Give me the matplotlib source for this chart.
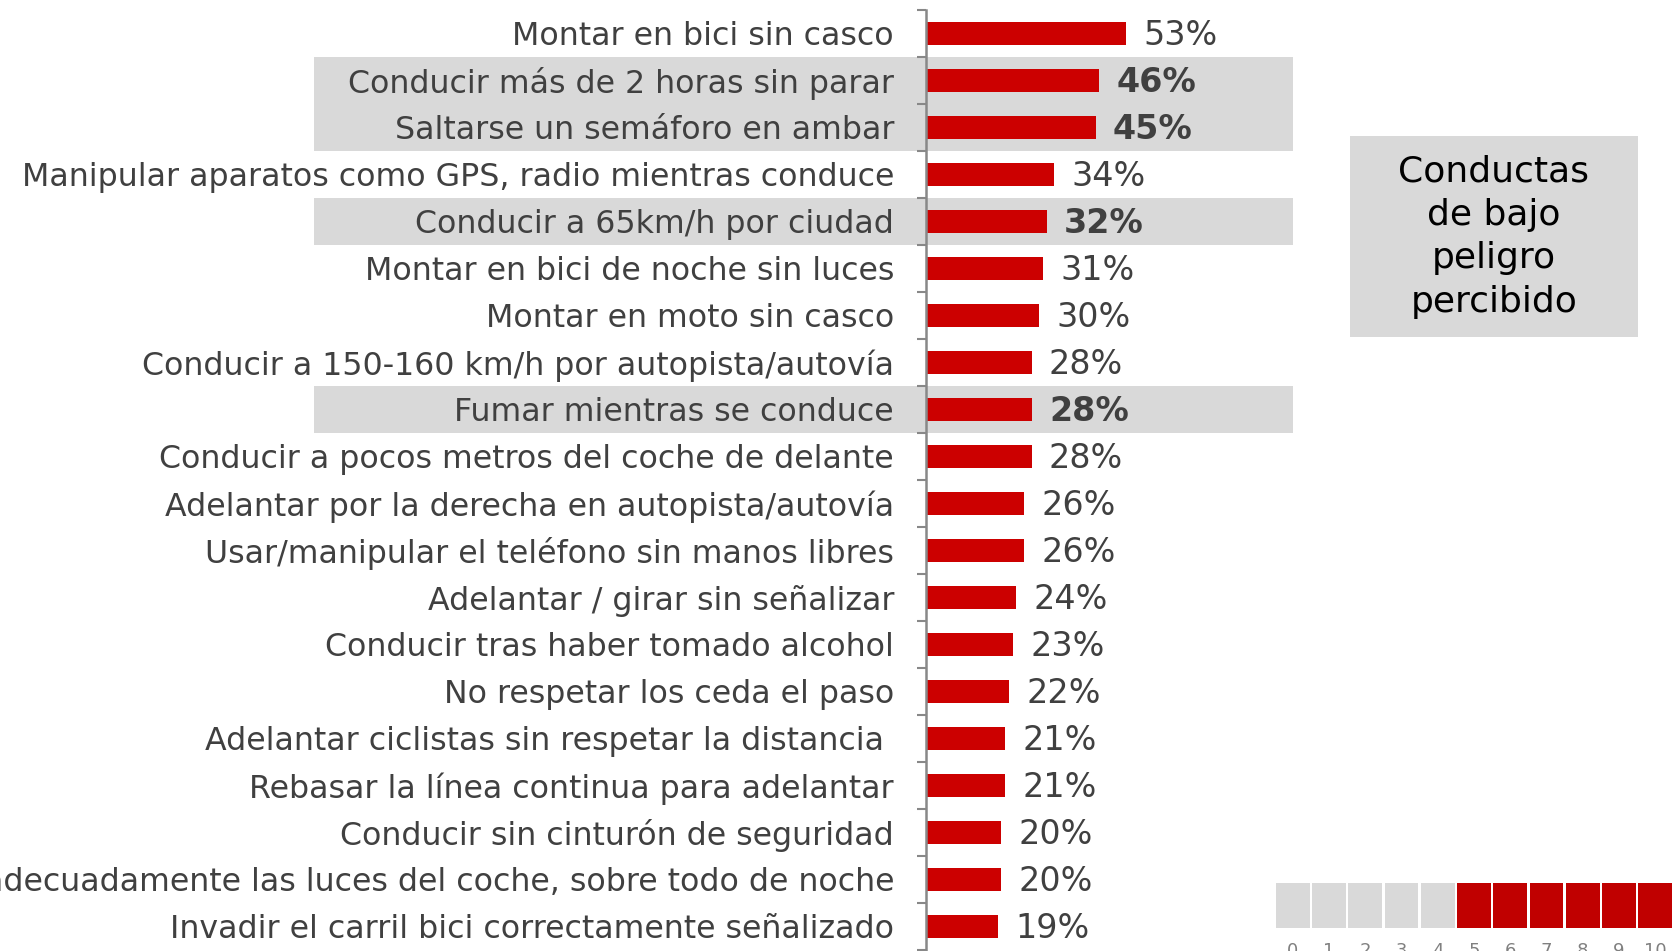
import matplotlib.pyplot as plt
from matplotlib.patches import Rectangle

# datos
conductas = [
    "Montar en bici sin casco",
    "Conducir más de 2 horas sin parar",
    "Saltarse un semáforo en ambar",
    "Manipular aparatos como GPS, radio mientras conduce",
    "Conducir a 65km/h por ciudad",
    "Montar en bici de noche sin luces",
    "Montar en moto sin casco",
    "Conducir a 150-160 km/h por autopista/autovía",
    "Fumar mientras se conduce",
    "Conducir a pocos metros del coche de delante",
    "Adelantar por la derecha en autopista/autovía",
    "Usar/manipular el teléfono sin manos libres",
    "Adelantar / girar sin señalizar",
    "Conducir tras haber tomado alcohol",
    "No respetar los ceda el paso",
    "Adelantar ciclistas sin respetar la distancia ",
    "Rebasar la línea continua para adelantar",
    "Conducir sin cinturón de seguridad",
    "No usar adecuadamente las luces del coche, sobre todo de noche",
    "Invadir el carril bici correctamente señalizado",
]
porcentajes = [53, 46, 45, 34, 32, 31, 30, 28, 28, 28, 26, 26, 24, 23, 22, 21, 21, 20, 20, 19]
bajo_peligro = [1, 2, 4, 8]  # filas destacadas

escala = list(range(11))
umbral = 5

ROJO = "#cc0000"
GRIS = "#d9d9d9"
TEXTO = "#404040"

W, H = 1673, 951
fig = plt.figure(figsize=(W / 100, H / 100), dpi=100)

# eje principal
x0, x1 = 926, 1293
ax = fig.add_axes([x0 / W, 1 - 950 / H, (x1 - x0) / W, 940 / H])
n = len(conductas)
y = list(range(n))
ax.barh(y, porcentajes, height=0.5, color=ROJO, zorder=2)
ax.set_xlim(0, (x1 - x0) / 3.77)
ax.set_ylim(n - 0.5, -0.5)

band_left = (314 - x0) / (x1 - x0)
for i in bajo_peligro:
    ax.axhspan(i - 0.5, i + 0.5, xmin=band_left, xmax=1, color=GRIS,
               clip_on=False, zorder=0.5, lw=0)

for i, v in enumerate(porcentajes):
    bold = i in bajo_peligro
    ax.text(v + 4.6, i + 0.04, f"{v}%", va="center", ha="left", fontsize=24,
            color=TEXTO, fontweight="bold" if bold else "normal")

ax.set_yticks(y)
ax.set_yticklabels(conductas, fontsize=22.8, color=TEXTO)
ax.set_yticks([i - 0.5 for i in range(n + 1)], minor=True)
ax.tick_params(axis="y", which="major", length=0, pad=23)
ax.tick_params(axis="y", which="minor", length=6.5, width=1.5, color="#888888", direction="out")
ax.set_xticks([])
for s in ["top", "right", "bottom"]:
    ax.spines[s].set_visible(False)
ax.spines["left"].set_color("#888888")
ax.spines["left"].set_linewidth(1.8)
ax.patch.set_alpha(0)

# recuadro
bx0, bx1, by0, by1 = 1350, 1638, 136, 337
fig.patches.append(Rectangle((bx0 / W, 1 - by1 / H), (bx1 - bx0) / W, (by1 - by0) / H,
                             transform=fig.transFigure, color=GRIS, lw=0))
fig.text((bx0 + bx1) / 2 / W, 1 - (by0 + by1) / 2 / H, "Conductas\nde bajo\npeligro\npercibido",
         ha="center", va="center", fontsize=26, color="black", linespacing=1.35)

# escala 0-10
lax = fig.add_axes([1274.5 / W, 1 - 928 / H, 399 / W, 45 / H])
lax.bar(escala, [1] * len(escala), width=0.93,
        color=["#c00000" if e >= umbral else GRIS for e in escala])
lax.set_xlim(-0.5, 10.5)
lax.set_ylim(0, 1)
lax.set_yticks([])
lax.set_xticks(escala)
lax.set_xticklabels([str(e) for e in escala], fontsize=13, color="#808080")
lax.tick_params(axis="x", length=0, pad=10)
for s in lax.spines.values():
    s.set_visible(False)

fig.savefig("out.png", dpi=100)
